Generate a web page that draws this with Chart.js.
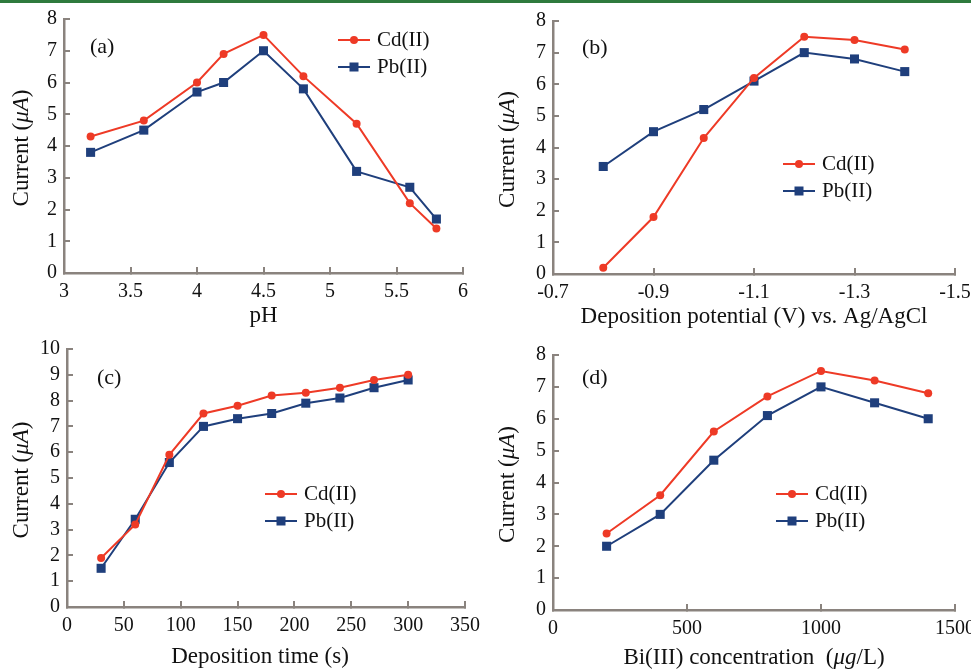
<!DOCTYPE html>
<html>
<head>
<meta charset="utf-8">
<script src="https://cdn.jsdelivr.net/npm/chart.js@4.4.1/dist/chart.umd.min.js"></script>
<style>
  body { margin: 0; background: #fff; }
  #page { position: relative; width: 971px; height: 670px; overflow: hidden; background: #fff; }
  #topRule { position: absolute; left: 0; top: 0; width: 971px; height: 3px; background: #2f7a3d; }
  .panel { position: absolute; }
</style>
</head>
<body>
<div id="page">
  <div id="topRule"></div>
  <canvas id="chartA" class="panel" width="485" height="335" style="left:0;top:0"></canvas>
  <canvas id="chartB" class="panel" width="486" height="335" style="left:485px;top:0"></canvas>
  <canvas id="chartC" class="panel" width="485" height="340" style="left:0;top:330px"></canvas>
  <canvas id="chartD" class="panel" width="486" height="340" style="left:485px;top:330px"></canvas>
</div>
<script>
// (a) effect of pH
const phValues = [3.2, 3.6, 4.0, 4.2, 4.5, 4.8, 5.2, 5.6, 5.8];
const phCd = [4.3, 4.8, 6.0, 6.9, 7.5, 6.2, 4.7, 2.2, 1.4];
const phPb = [3.8, 4.5, 5.7, 6.0, 7.0, 5.8, 3.2, 2.7, 1.7];

// (b) deposition potential
const potentialValues = [-0.8, -0.9, -1.0, -1.1, -1.2, -1.3, -1.4];
const potentialCd = [0.2, 1.8, 4.3, 6.2, 7.5, 7.4, 7.1];
const potentialPb = [3.4, 4.5, 5.2, 6.1, 7.0, 6.8, 6.4];

// (c) deposition time
const timeValues = [30, 60, 90, 120, 150, 180, 210, 240, 270, 300];
const timeCd = [1.9, 3.2, 5.9, 7.5, 7.8, 8.2, 8.3, 8.5, 8.8, 9.0];
const timePb = [1.5, 3.4, 5.6, 7.0, 7.3, 7.5, 7.9, 8.1, 8.5, 8.8];

// (d) Bi(III) concentration
const biValues = [200, 400, 600, 800, 1000, 1200, 1400];
const biCd = [2.4, 3.6, 5.6, 6.7, 7.5, 7.2, 6.8];
const biPb = [2.0, 3.0, 4.7, 6.1, 7.0, 6.5, 6.0];

const seriesNames = ['Cd(II)', 'Pb(II)'];
const yTitle = [['Current (', false], ['\u03BCA', true], [')', false]];

const RED = '#ee3a26';
const BLUE = '#1f3f7c';
const AXIS = '#8a837e';
const FONT = '"Liberation Serif", "Times New Roman", serif';

function drawRich(ctx, parts, cx, cy, angle) {
    ctx.save();
    ctx.translate(cx, cy);
    ctx.rotate(angle);
    ctx.textBaseline = 'middle';
    ctx.textAlign = 'left';
    let total = 0;
    const widths = parts.map(([t, it]) => {
        ctx.font = (it ? 'italic ' : '') + '23px ' + FONT;
        const w = ctx.measureText(t).width;
        total += w;
        return w;
    });
    let x = -total / 2;
    parts.forEach(([t, it], i) => {
        ctx.font = (it ? 'italic ' : '') + '23px ' + FONT;
        ctx.fillText(t, x, 0);
        x += widths[i];
    });
    ctx.restore();
}

const decor = {
    id: 'decor',
    afterDraw(chart, args, o) {
        const { ctx, chartArea: a } = chart;
        ctx.save();
        ctx.fillStyle = '#111';
        ctx.textBaseline = 'middle';
        ctx.textAlign = 'left';
        ctx.font = '22px ' + FONT;
        ctx.fillText(o.tag, o.tagX, o.tagY);

        // legend: line with marker, then name
        chart.data.datasets.forEach((ds, i) => {
            const y = o.legendY + i * 27;
            const x = o.legendX;
            ctx.strokeStyle = ds.borderColor;
            ctx.lineWidth = 2;
            ctx.beginPath();
            ctx.moveTo(x, y);
            ctx.lineTo(x + 32, y);
            ctx.stroke();
            ctx.fillStyle = ds.borderColor;
            if (ds.pointStyle === 'rect') {
                ctx.fillRect(x + 16 - 4.5, y - 4.5, 9, 9);
            } else {
                ctx.beginPath();
                ctx.arc(x + 16, y, 4, 0, Math.PI * 2);
                ctx.fill();
            }
            ctx.fillStyle = '#111';
            ctx.font = '21px ' + FONT;
            ctx.fillText(ds.label, x + 39, y);
        });

        drawRich(ctx, o.xTitle, (a.left + a.right) / 2 + (o.xShift || 0), o.xTitleY, 0);
        drawRich(ctx, yTitle, o.yTitleX, (a.top + a.bottom) / 2 + 2, -Math.PI / 2);
        ctx.restore();
    }
};

function makeSeries(xs, ys, i) {
    return {
        label: seriesNames[i],
        data: xs.map((x, k) => ({ x: x, y: ys[k] })),
        borderColor: i === 0 ? RED : BLUE,
        backgroundColor: i === 0 ? RED : BLUE,
        pointBackgroundColor: i === 0 ? RED : BLUE,
        pointBorderWidth: 0,
        pointStyle: i === 0 ? 'circle' : 'rect',
        pointRadius: i === 0 ? 4 : 6.4,
        borderWidth: 2,
        tension: 0
    };
}

// scale paddings off, so layout.padding alone places the plot area
function noPad(s) {
    s.paddingLeft = 0;
    s.paddingRight = 0;
    s.paddingTop = 0;
    s.paddingBottom = 0;
}

function makeChart(id, xs, cd, pb, cfg) {
    const ctx = document.getElementById(id).getContext('2d');
    new Chart(ctx, {
        type: 'line',
        data: { datasets: [makeSeries(xs, cd, 0), makeSeries(xs, pb, 1)] },
        plugins: [decor],
        options: {
            responsive: false,
            animation: false,
            devicePixelRatio: 1,
            layout: { padding: cfg.padding },
            plugins: {
                legend: { display: false },
                tooltip: { enabled: false },
                decor: cfg.decor
            },
            scales: {
                x: {
                    type: 'linear',
                    min: cfg.xMin,
                    max: cfg.xMax,
                    reverse: !!cfg.reverse,
                    afterFit: (s) => { s.height = cfg.xHeight; noPad(s); },
                    ticks: {
                        stepSize: cfg.xStep,
                        autoSkip: false,
                        color: '#111',
                        font: { family: FONT, size: 20, lineHeight: 1 },
                        padding: 15,
                        maxRotation: 0,
                        callback: (v) => String(Number(v.toFixed(2)))
                    },
                    grid: { drawOnChartArea: false, drawTicks: true, tickLength: -6, color: AXIS, lineWidth: 2 },
                    border: { color: AXIS, width: 2.5 }
                },
                y: {
                    min: 0,
                    max: cfg.yMax,
                    afterFit: (s) => { s.width = cfg.yWidth; noPad(s); },
                    ticks: {
                        stepSize: 1,
                        autoSkip: false,
                        color: '#111',
                        font: { family: FONT, size: 20, lineHeight: 1 },
                        padding: 13
                    },
                    grid: { drawOnChartArea: false, drawTicks: true, tickLength: -6, color: AXIS, lineWidth: 2 },
                    border: { color: AXIS, width: 2.5 }
                }
            }
        }
    });
}

makeChart('chartA', phValues, phCd, phPb, {
    xMin: 3, xMax: 6, xStep: 0.5, yMax: 8,
    yWidth: 64, xHeight: 62,
    padding: { top: 19, right: 22, left: 0, bottom: 0 },
    decor: { tag: '(a)', tagX: 90, tagY: 47, legendX: 338, legendY: 40,
             xTitle: [['pH', false]], xTitleY: 316, yTitleX: 22 }
});

makeChart('chartB', potentialValues, potentialCd, potentialPb, {
    xMin: -1.5, xMax: -0.7, xStep: 0.2, yMax: 8, reverse: true,
    yWidth: 68, xHeight: 61,
    padding: { top: 21, right: 16, left: 0, bottom: 0 },
    decor: { tag: '(b)', tagX: 97, tagY: 48, legendX: 298, legendY: 164,
             xTitle: [['Deposition potential (V) vs. Ag/AgCl', false]], xTitleY: 317, yTitleX: 23 }
});

makeChart('chartC', timeValues, timeCd, timePb, {
    xMin: 0, xMax: 350, xStep: 50, yMax: 10,
    yWidth: 67, xHeight: 63,
    padding: { top: 19, right: 20, left: 0, bottom: 0 },
    decor: { tag: '(c)', tagX: 97, tagY: 48, legendX: 265, legendY: 164,
             xTitle: [['Deposition time (s)', false]], xTitleY: 327, xShift: -6, yTitleX: 22 }
});

makeChart('chartD', biValues, biCd, biPb, {
    xMin: 0, xMax: 1500, xStep: 500, yMax: 8,
    yWidth: 68, xHeight: 60,
    padding: { top: 25, right: 16, left: 0, bottom: 0 },
    decor: { tag: '(d)', tagX: 97, tagY: 48, legendX: 291, legendY: 164,
             xTitle: [['Bi(III) concentration  (', false], ['\u03BCg', true], ['/L)', false]], xTitleY: 328, yTitleX: 23 }
});
</script>
</body>
</html>
